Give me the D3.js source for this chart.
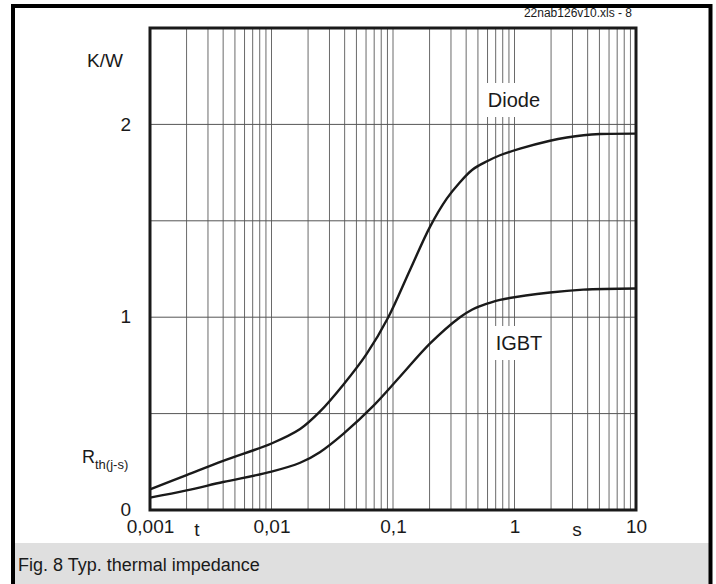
<!DOCTYPE html>
<html>
<head>
<meta charset="utf-8">
<script src="https://cdn.jsdelivr.net/npm/d3@7"></script>
<style>
  body { margin: 0; background: #fff; }
  svg text { font-family: 'Liberation Sans', Arial, sans-serif; fill: #1a1a1a; }
</style>
</head>
<body>
<div id="chart"></div>
<script>
// data
const diodeT = [0.001, 0.002, 0.004, 0.01, 0.0172, 0.025, 0.039, 0.0607, 0.0915, 0.138, 0.202, 0.277, 0.35, 0.45, 0.6, 0.76, 1.11, 1.96, 2.69, 3.7, 5.06, 10]
const diodeZ = [0.107, 0.181, 0.255, 0.345, 0.42, 0.51, 0.65, 0.81, 1.0, 1.245, 1.47, 1.615, 1.695, 1.765, 1.81, 1.84, 1.874, 1.915, 1.932, 1.944, 1.95, 1.952]

const igbtT = [0.001, 0.002, 0.004, 0.01, 0.0172, 0.025, 0.039, 0.0689, 0.114, 0.202, 0.356, 0.45, 0.52, 0.76, 1.96, 3.68, 10]
const igbtZ = [0.064, 0.102, 0.145, 0.199, 0.245, 0.3, 0.395, 0.54, 0.691, 0.864, 1.0, 1.04, 1.057, 1.09, 1.128, 1.143, 1.149]

const xTicks = [0.001, 0.01, 0.1, 1, 10]
const xTickLabels = ['0,001', '0,01', '0,1', '1', '10']
const yTicks = [0, 1, 2]
const yGrid = [0.5, 1, 1.5, 2]

const W = 716, H = 584
const plot = { left: 150, right: 636, top: 28, bottom: 510 }

const xScale = d3.scaleLog()
    .domain([0.001, 10])
    .range([plot.left, plot.right])

const yScale = d3.scaleLinear()
    .domain([0, 2.5])
    .range([plot.bottom, plot.top])

const svg = d3.select('#chart')
    .append('svg')
    .attr('width', W)
    .attr('height', H)

// outer frame + caption band
svg.append('rect')
    .attr('x', 15).attr('y', 543)
    .attr('width', 694).attr('height', 50)
    .attr('fill', '#dfdfdf')

svg.append('rect')
    .attr('x', 13).attr('y', 6)
    .attr('width', 697.5).attr('height', 620)
    .attr('fill', 'none')
    .attr('stroke', '#000')
    .attr('stroke-width', 4)

svg.append('text')
    .attr('x', 18).attr('y', 571)
    .style('font-size', '18px')
    .text('Fig. 8 Typ. thermal impedance')

svg.append('text')
    .attr('x', 632).attr('y', 17)
    .attr('text-anchor', 'end')
    .style('font-size', '12px')
    .text('22nab126v10.xls - 8')

// grid
const vGrid = xScale.ticks().filter(d => d > 0.001 && d < 10)
svg.append('g')
    .selectAll('line')
    .data(vGrid)
    .join('line')
    .attr('x1', d => xScale(d)).attr('x2', d => xScale(d))
    .attr('y1', plot.top).attr('y2', plot.bottom)
    .attr('stroke', '#6a6a6a')
    .attr('stroke-width', 1)

svg.append('g')
    .selectAll('line')
    .data(yGrid)
    .join('line')
    .attr('x1', plot.left).attr('x2', plot.right)
    .attr('y1', d => yScale(d)).attr('y2', d => yScale(d))
    .attr('stroke', '#555')
    .attr('stroke-width', 1)

// curves
const line = d3.line()
    .x(d => xScale(d[0]))
    .y(d => yScale(d[1]))
    .curve(d3.curveCatmullRom.alpha(0.5))

const series = [
    d3.zip(diodeT, diodeZ),
    d3.zip(igbtT, igbtZ)
]

svg.append('g')
    .selectAll('path')
    .data(series)
    .join('path')
    .attr('d', line)
    .attr('fill', 'none')
    .attr('stroke', '#1a1a1a')
    .attr('stroke-width', 2.4)

// curve labels on white boxes
function curveLabel(x, y, w, h, txt) {
    svg.append('rect')
        .attr('x', x - w / 2).attr('y', y - h / 2)
        .attr('width', w).attr('height', h)
        .attr('fill', '#fff')
    return svg.append('text')
        .attr('x', x).attr('y', y + 7)
        .attr('text-anchor', 'middle')
        .style('font-size', '20px')
        .text(txt)
}
curveLabel(514, 100, 60, 34, 'Diode')
curveLabel(519, 343, 56, 34, 'IGBT')

// plot frame
svg.append('rect')
    .attr('x', plot.left).attr('y', plot.top)
    .attr('width', plot.right - plot.left)
    .attr('height', plot.bottom - plot.top)
    .attr('fill', 'none')
    .attr('stroke', '#1a1a1a')
    .attr('stroke-width', 3)

// axes
svg.append('g')
    .attr('transform', `translate(0,${plot.bottom})`)
    .call(d3.axisBottom(xScale)
        .tickValues(xTicks)
        .tickSize(0)
        .tickFormat((d, i) => xTickLabels[i]))
    .call(g => g.select('.domain').remove())
    .selectAll('text')
        .attr('y', 0)
        .attr('dy', 23)
        .style('font-size', '19px')
        .style('font-family', "'Liberation Sans', Arial, sans-serif")
        .style('fill', '#1a1a1a')

svg.append('g')
    .attr('transform', `translate(${plot.left - 16},0)`)
    .call(d3.axisLeft(yScale)
        .tickValues(yTicks)
        .tickSize(0)
        .tickFormat(d => d))
    .call(g => g.select('.domain').remove())
    .selectAll('text')
        .attr('dy', '0.3em')
        .style('font-size', '19px')
        .style('font-family', "'Liberation Sans', Arial, sans-serif")
        .style('fill', '#1a1a1a')

// unit labels
svg.append('text')
    .attr('x', 105).attr('y', 67)
    .attr('text-anchor', 'middle')
    .style('font-size', '19px')
    .text('K/W')

svg.append('text')
    .attr('x', 197).attr('y', 536)
    .attr('text-anchor', 'middle')
    .style('font-size', '19px')
    .text('t')

svg.append('text')
    .attr('x', 577).attr('y', 536)
    .attr('text-anchor', 'middle')
    .style('font-size', '19px')
    .text('s')

const rth = svg.append('text')
    .attr('x', 82).attr('y', 463)
    .style('font-size', '18px')
rth.append('tspan').text('R')
rth.append('tspan')
    .attr('dy', 6)
    .style('font-size', '13px')
    .text('th(j-s)')
</script>
</body>
</html>
